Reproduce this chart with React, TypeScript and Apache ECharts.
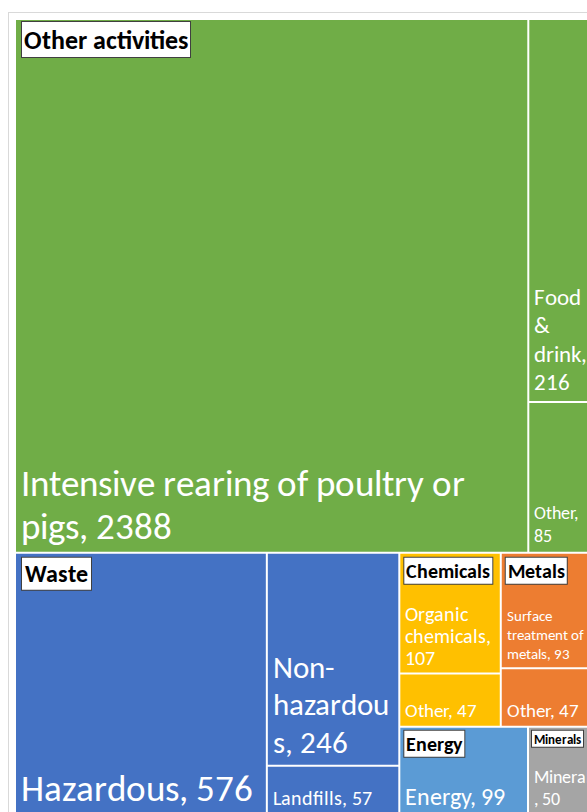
import React, { useEffect, useRef } from 'react';
import * as echarts from 'echarts';

// ---- data ----
const groupNames = ['Other activities', 'Waste', 'Chemicals', 'Metals', 'Energy', 'Minerals'];

const otherActivitiesNames = ['Intensive rearing of poultry or pigs', 'Food & drink', 'Other'];
const otherActivitiesValues = [2388, 216, 85];
const wasteNames = ['Hazardous', 'Non-hazardous', 'Landfills'];
const wasteValues = [576, 246, 57];
const chemicalsNames = ['Organic chemicals', 'Other'];
const chemicalsValues = [107, 47];
const metalsNames = ['Surface treatment of metals', 'Other'];
const metalsValues = [93, 47];
const energyNames = ['Energy'];
const energyValues = [99];
const mineralsNames = ['Minerals'];
const mineralsValues = [50];

// label text as wrapped in the reference ({v} = value)
const otherActivitiesLabels = ['Intensive rearing of poultry or\npigs, {v}', 'Food\n&\ndrink,\n{v}', 'Other,\n{v}'];
const wasteLabels = ['Hazardous, {v}', 'Non-\nhazardou\ns, {v}', 'Landfills, {v}'];
const chemicalsLabels = ['Organic\nchemicals,\n{v}', 'Other, {v}'];
const metalsLabels = ['Surface\ntreatment of\nmetals, {v}', 'Other, {v}'];
const energyLabels = ['Energy, {v}'];
const mineralsLabels = ['Minerals\n, {v}'];

const groupLeafNames = [otherActivitiesNames, wasteNames, chemicalsNames, metalsNames, energyNames, mineralsNames];
const groupLeafValues = [otherActivitiesValues, wasteValues, chemicalsValues, metalsValues, energyValues, mineralsValues];
const groupLeafLabels = [otherActivitiesLabels, wasteLabels, chemicalsLabels, metalsLabels, energyLabels, mineralsLabels];

// ---- styles ----
const FONT = 'CalibriLocal, Carlito, Calibri, Lato, sans-serif';
const groupColors = ['#70AD47', '#4472C4', '#FFC000', '#ED7D31', '#5B9BD5', '#A5A5A5'];
const leafFontSizes = [[36.5, 22.5, 18], [36.5, 31, 20], [19.5, 18.5], [15, 18.5], [24], [18]];
const leafLineHeights = [[43, 28.5, 23], [44, 37.5, 24], [22, 22], [19, 22], [28], [22]];
const headerFontSizes = [25.5, 24, 20, 20, 20, 13];
const headerPads = [[5, 2, 4, 2], [4, 3, 4, 3], [3, 2, 3, 2], [3, 2, 3, 2], [3, 2, 3, 2], [2, 2, 1, 2]];
const headerOffsets = [[2, 6], [4, 6], [4, 4], [4, 4], [3, 4], [3, 3]];

const FONT_FACE_CSS = `
@font-face { font-family: 'CalibriLocal'; src: local('Carlito'), local('Carlito Regular'), local('Carlito-Regular'); font-weight: normal; font-style: normal; }
@font-face { font-family: 'CalibriLocal'; src: local('Carlito Bold'), local('Carlito-Bold'); font-weight: bold; font-style: normal; }
`;

function buildOption() {
  const treeData = groupNames.map((g, gi) => ({
    name: g,
    itemStyle: { color: groupColors[gi] },
    children: groupLeafNames[gi].map((n, li) => ({
      name: n,
      value: groupLeafValues[gi][li],
      itemStyle: { color: groupColors[gi] },
      label: {
        fontSize: leafFontSizes[gi][li],
        lineHeight: leafLineHeights[gi][li],
        formatter: groupLeafLabels[gi][li].replace('{v}', String(groupLeafValues[gi][li])),
      },
    })),
  }));

  const headerData = groupNames.map((g, gi) => ({
    name: g,
    value: groupLeafValues[gi].reduce((a, b) => a + b, 0),
    label: {
      padding: [headerOffsets[gi][0], 0, 0, headerOffsets[gi][1]],
      rich: {
        h: {
          fontSize: headerFontSizes[gi],
          fontWeight: 'bold',
          fontFamily: FONT,
          color: '#000',
          backgroundColor: '#fff',
          borderColor: '#404040',
          borderWidth: 1,
          padding: headerPads[gi],
        },
      },
    },
  }));

  const box = { left: 7, top: 7, width: 576, height: 794 };

  return {
    animation: false,
    series: [
      {
        type: 'treemap',
        ...box,
        roam: false,
        nodeClick: false,
        breadcrumb: { show: false },
        sort: 'desc',
        emphasis: { disabled: true },
        levels: [
          { itemStyle: { gapWidth: 2, borderWidth: 0, borderColor: '#fff' } },
          { itemStyle: { gapWidth: 2, borderWidth: 0, borderColor: '#fff' }, upperLabel: { show: false } },
          { itemStyle: { borderWidth: 0 } },
        ],
        label: {
          show: true,
          position: 'insideBottomLeft',
          distance: 0,
          padding: [0, 0, 4, 5],
          color: '#fff',
          fontFamily: FONT,
          overflow: 'none',
        },
        data: treeData,
      },
      {
        type: 'treemap',
        ...box,
        z: 5,
        silent: true,
        roam: false,
        nodeClick: false,
        breadcrumb: { show: false },
        sort: 'desc',
        emphasis: { disabled: true },
        levels: [
          { itemStyle: { gapWidth: 2, borderWidth: 0, borderColor: 'rgba(0,0,0,0)' } },
          { itemStyle: { color: 'rgba(0,0,0,0)', borderWidth: 0, borderColor: 'rgba(0,0,0,0)' } },
        ],
        label: {
          show: true,
          position: 'insideTopLeft',
          distance: 0,
          overflow: 'none',
          fontFamily: FONT,
          formatter: (p: any) => `{h|${p.name}}`,
        },
        data: headerData,
      },
    ],
  };
}

export default function App() {
  const ref = useRef<HTMLDivElement>(null);
  useEffect(() => {
    const styleEl = document.createElement('style');
    styleEl.textContent = FONT_FACE_CSS;
    document.head.appendChild(styleEl);

    let chart: echarts.ECharts | null = null;
    let cancelled = false;
    const start = () => {
      if (cancelled || chart || !ref.current) return;
      chart = echarts.init(ref.current, null, { renderer: 'svg' });
      chart.setOption(buildOption());
    };
    const fonts = (document as any).fonts;
    if (fonts && fonts.load) {
      Promise.all([
        fonts.load("20px 'CalibriLocal'"),
        fonts.load("bold 20px 'CalibriLocal'"),
      ])
        .then(() => fonts.ready)
        .then(start, start);
      setTimeout(start, 1000);
    } else {
      start();
    }
    return () => {
      cancelled = true;
      if (chart) chart.dispose();
      styleEl.remove();
    };
  }, []);

  return (
    <div style={{ position: 'absolute', left: 0, top: 0, width: 587, height: 812, overflow: 'hidden', background: '#fff' }}>
      <div style={{ position: 'absolute', left: 8, top: 12, width: 610, height: 830, border: '1px solid #d9d9d9' }}>
        <div ref={ref} style={{ width: 610, height: 830 }} />
      </div>
    </div>
  );
}
